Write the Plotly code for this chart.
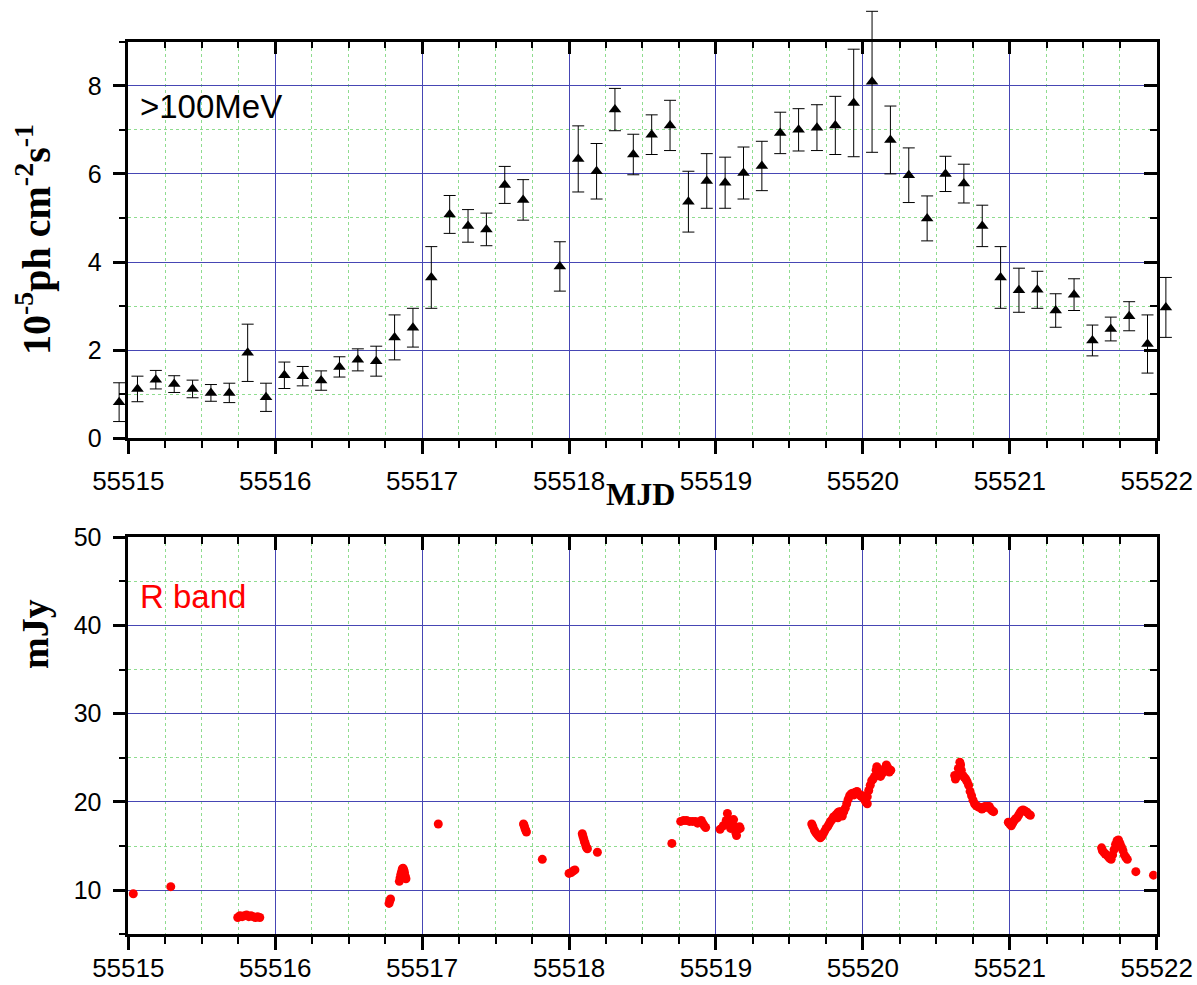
import plotly.graph_objects as go

# ---------------- Fermi-LAT light curve (>100 MeV), 3-hour bins ----------------
gamma_mjd = [
    55514.9375, 55515.0625, 55515.1875, 55515.3125, 55515.4375, 55515.5625,
    55515.6875, 55515.8125, 55515.9375, 55516.0625, 55516.1875, 55516.3125,
    55516.4375, 55516.5625, 55516.6875, 55516.8125, 55516.9375, 55517.0625,
    55517.1875, 55517.3125, 55517.4375, 55517.5625, 55517.6875,
    55517.9375, 55518.0625, 55518.1875, 55518.3125, 55518.4375, 55518.5625,
    55518.6875, 55518.8125, 55518.9375, 55519.0625, 55519.1875, 55519.3125,
    55519.4375, 55519.5625, 55519.6875, 55519.8125, 55519.9375, 55520.0625,
    55520.1875, 55520.3125, 55520.4375, 55520.5625, 55520.6875, 55520.8125,
    55520.9375, 55521.0625, 55521.1875, 55521.3125, 55521.4375, 55521.5625,
    55521.6875, 55521.8125, 55521.9375, 55522.0625,
]
gamma_flux = [
    0.82, 1.12, 1.33, 1.23, 1.12, 1.03,
    1.03, 1.94, 0.93, 1.43, 1.41, 1.31,
    1.62, 1.78, 1.75, 2.29, 2.51, 3.65,
    5.08, 4.82, 4.74, 5.75, 5.41,
    3.90, 6.34, 6.06, 7.46, 6.44, 6.89,
    7.10, 5.37, 5.84, 5.80, 6.02, 6.18,
    6.93, 7.00, 7.05, 7.10, 7.61, 8.09,
    6.77, 5.97, 4.99, 6.00, 5.78, 4.82,
    3.65, 3.36, 3.37, 2.90, 3.26, 2.22,
    2.48, 2.77, 2.14, 2.97,
]
gamma_err = [
    0.44, 0.29, 0.21, 0.19, 0.20, 0.19,
    0.22, 0.65, 0.32, 0.30, 0.22, 0.22,
    0.23, 0.25, 0.34, 0.51, 0.44, 0.70,
    0.43, 0.37, 0.37, 0.42, 0.46,
    0.56, 0.75, 0.63, 0.48, 0.46, 0.45,
    0.57, 0.69, 0.62, 0.58, 0.59, 0.56,
    0.47, 0.48, 0.52, 0.66, 1.22, 1.60,
    0.77, 0.62, 0.51, 0.40, 0.44, 0.47,
    0.70, 0.50, 0.42, 0.38, 0.36, 0.35,
    0.27, 0.33, 0.66, 0.68,
]

# ---------------- R-band optical flux density (mJy) ----------------
r_mjd = [
    55515.034, 55515.289,
    55515.745, 55515.760, 55515.775, 55515.790, 55515.805, 55515.820,
    55515.835, 55515.850, 55515.865, 55515.880, 55515.895,
    55516.775, 55516.780, 55516.785,
    55516.845, 55516.850, 55516.855, 55516.860, 55516.865, 55516.870,
    55516.875, 55516.880, 55516.885, 55516.890, 55516.870,
    55517.110,
    55517.690, 55517.695, 55517.700, 55517.705, 55517.710,
    55517.818,
    55518.000, 55518.015, 55518.030, 55518.040,
    55518.090, 55518.095, 55518.100, 55518.105, 55518.110, 55518.115,
    55518.120, 55518.125,
    55518.193,
    55518.700,
    55518.760, 55518.780, 55518.800, 55518.820, 55518.840, 55518.860,
    55518.875, 55518.890, 55518.900, 55518.910, 55518.920, 55518.930,
    55519.028, 55519.050, 55519.070, 55519.078, 55519.090, 55519.100,
    55519.110, 55519.120, 55519.130, 55519.135, 55519.140, 55519.150,
    55519.160, 55519.165, 55519.100,
    55519.652, 55519.660, 55519.670, 55519.680, 55519.690, 55519.700,
    55519.710, 55519.720, 55519.730, 55519.740, 55519.750, 55519.760,
    55519.770, 55519.780, 55519.790, 55519.800, 55519.810, 55519.820,
    55519.830, 55519.840, 55519.850, 55519.860, 55519.870, 55519.880,
    55519.890, 55519.900, 55519.910, 55519.920, 55519.930, 55519.940,
    55519.950, 55519.960, 55519.970, 55519.980, 55519.990, 55520.000,
    55520.010, 55520.020, 55520.030, 55520.030, 55520.040, 55520.050,
    55520.060, 55520.070, 55520.080, 55520.090, 55520.095, 55520.100,
    55520.110, 55520.120, 55520.130, 55520.140, 55520.150, 55520.160,
    55520.170, 55520.180, 55520.190, 55519.830, 55519.860,
    55520.625, 55520.630, 55520.640, 55520.650, 55520.660, 55520.665,
    55520.670, 55520.680, 55520.690, 55520.700, 55520.710, 55520.720,
    55520.730, 55520.740, 55520.750, 55520.760, 55520.770, 55520.780,
    55520.790, 55520.800, 55520.810, 55520.820, 55520.830, 55520.840,
    55520.850, 55520.860, 55520.870, 55520.880, 55520.890,
    55520.990, 55521.000, 55521.010, 55521.020, 55521.030, 55521.040,
    55521.050, 55521.060, 55521.070, 55521.080, 55521.090, 55521.100,
    55521.110, 55521.120, 55521.130, 55521.140,
    55521.625, 55521.630, 55521.640, 55521.650, 55521.660, 55521.670,
    55521.680, 55521.690, 55521.700, 55521.710, 55521.720, 55521.730,
    55521.740, 55521.750, 55521.760, 55521.770, 55521.780, 55521.790,
    55521.800, 55521.858, 55521.978,
]
r_flux = [
    9.6, 10.4,
    6.9, 7.1, 7.0, 7.1, 7.2, 7.0,
    7.1, 7.0, 6.9, 7.0, 6.9,
    8.5, 8.8, 9.0,
    11.0, 11.4, 11.8, 12.1, 12.4, 12.5,
    12.3, 12.0, 11.6, 11.3, 11.7,
    17.5,
    17.5, 17.3, 17.0, 16.8, 16.6,
    13.5,
    11.9, 12.0, 12.2, 12.3,
    16.4, 16.1, 15.8, 15.5, 15.3, 15.0,
    14.8, 14.7,
    14.3,
    15.3,
    17.8, 17.9, 17.9, 17.8, 17.8, 17.8,
    17.6, 17.7, 17.9, 17.6, 17.3, 17.1,
    16.9, 17.3, 17.9, 18.7, 18.0, 17.6,
    17.8, 18.0, 17.2, 16.5, 16.2, 16.9,
    17.2, 17.0, 17.0,
    17.5, 17.2, 16.8, 16.5, 16.3, 16.1,
    15.95, 16.1, 16.4, 16.7, 17.0, 17.2,
    17.5, 17.8, 18.0, 18.3, 18.4, 18.6,
    18.8, 18.9, 18.9, 18.7, 18.9, 19.3,
    19.8, 20.3, 20.7, 20.9, 21.0, 20.8,
    21.1, 21.2, 20.9, 20.8, 20.6, 20.7,
    20.3, 20.0, 19.8, 20.6, 21.3, 21.9,
    22.4, 22.6, 22.9, 23.6, 24.0, 23.3,
    23.0, 22.9, 23.2, 23.5, 23.8, 24.2,
    23.9, 23.4, 23.6, 18.2, 18.4,
    23.0, 22.6, 22.9, 23.8, 24.5, 24.2,
    23.6, 23.0, 22.8, 22.6, 22.3, 21.9,
    21.2, 20.7, 20.2, 19.8, 19.6, 19.5,
    19.4, 19.4, 19.2, 19.3, 19.5, 19.4,
    19.5, 19.5, 19.2, 19.0, 18.9,
    17.7, 17.5, 17.3, 17.6, 17.9, 18.1,
    18.2, 18.5, 18.8, 19.0, 19.1, 19.0,
    18.9, 18.8, 18.6, 18.5,
    14.8, 14.5, 14.3, 14.1, 14.0, 13.8,
    13.6, 13.5, 14.0, 14.6, 15.2, 15.6,
    15.7, 15.3, 14.9, 14.5, 14.0, 13.7,
    13.5, 12.1, 11.7,
]

# ---------------- axis ticks ----------------
mjd_ticks = [55515, 55516, 55517, 55518, 55519, 55520, 55521, 55522]
mjd_labels = ["55515", "55516", "55517", "55518", "55519", "55520", "55521", "55522"]
gamma_ticks = [0, 2, 4, 6, 8]
gamma_labels = ["0", "2", "4", "6", "8"]
r_ticks = [10, 20, 30, 40, 50]
r_labels = ["10", "20", "30", "40", "50"]

SANS = "Liberation Sans, Arial, sans-serif"
SERIF = "Liberation Serif, Times New Roman, serif"
MAJOR_GRID = "#4646b4"
MINOR_GRID = "#8fdc8f"

W, H = 1197, 985
XR = [55515, 55522]
GR = [0, 9]
RR = [5, 50]
X_DOM = [0.10718, 0.96633]
TOP_DOM = [0.55503, 0.95766]
BOT_DOM = [0.05147, 0.45452]

# The gamma-ray points sit on a hidden, larger subplot that shares the
# scale of the top panel, so bins and error bars reaching past the frame stay visible.
FREE_X_DOM = [0.0, 1.0]
FREE_Y_DOM = [0.5, 1.0]


def extend(rng, dom, new_dom):
    scale = (rng[1] - rng[0]) / (dom[1] - dom[0])
    return [rng[0] + (new_dom[0] - dom[0]) * scale,
            rng[1] + (new_dom[1] - dom[1]) * scale]


FREE_XR = extend(XR, X_DOM, FREE_X_DOM)
FREE_YR = extend(GR, TOP_DOM, FREE_Y_DOM)

fig = go.Figure()

fig.add_trace(go.Scatter(
    x=gamma_mjd, y=gamma_flux, mode="markers",
    marker=dict(symbol="triangle-up", size=11, color="black"),
    error_y=dict(type="data", array=gamma_err, color="black", thickness=1, width=6),
    xaxis="x5", yaxis="y5", showlegend=False,
))
fig.add_trace(go.Scatter(
    x=r_mjd, y=r_flux, mode="markers",
    marker=dict(symbol="circle", size=9, color="#ff0000", line=dict(width=0)),
    xaxis="x2", yaxis="y2", showlegend=False,
))
# empty traces so the panel and frame axes get their own subplots
for xa, ya in (("x", "y"), ("x3", "y"), ("x", "y3"), ("x4", "y2"), ("x2", "y4")):
    fig.add_trace(go.Scatter(x=[], y=[], xaxis=xa, yaxis=ya, showlegend=False,
                             hoverinfo="skip"))


def main_x(anchor, standoff):
    return dict(
        range=XR, domain=X_DOM, anchor=anchor, automargin=False,
        tickmode="array", tickvals=mjd_ticks, ticktext=mjd_labels,
        ticks="outside", ticklen=13, tickwidth=2.5, tickcolor="black",
        showline=True, linecolor="black", linewidth=2.5,
        showgrid=True, gridcolor=MAJOR_GRID, gridwidth=1, zeroline=False,
        tickfont=dict(family=SANS, size=26, color="black"),
        ticklabelstandoff=standoff,
        minor=dict(dtick=0.25, tick0=55515, ticks="outside", ticklen=7,
                   tickwidth=2, tickcolor="black", showgrid=True,
                   gridcolor=MINOR_GRID, gridwidth=1, griddash="dot"),
    )


def main_y(anchor, rng, dom, vals, labels, minor_step):
    return dict(
        range=rng, domain=dom, anchor=anchor, automargin=False,
        tickmode="array", tickvals=vals, ticktext=labels,
        ticks="outside", ticklen=13, tickwidth=2.5, tickcolor="black",
        showline=True, linecolor="black", linewidth=2.5,
        showgrid=True, gridcolor=MAJOR_GRID, gridwidth=1, zeroline=False,
        tickfont=dict(family=SANS, size=25, color="black"),
        ticklabelstandoff=6,
        minor=dict(dtick=minor_step, tick0=rng[0], ticks="outside", ticklen=7,
                   tickwidth=2, tickcolor="black", showgrid=True,
                   gridcolor=MINOR_GRID, gridwidth=1, griddash="dot"),
    )


def frame_x(over, anchor):
    return dict(
        range=XR, overlaying=over, anchor=anchor, side="top", automargin=False,
        tickmode="array", tickvals=mjd_ticks, showticklabels=False,
        ticks="inside", ticklen=13, tickwidth=2.5, tickcolor="black",
        showline=True, linecolor="black", linewidth=2.5,
        showgrid=False, zeroline=False,
        minor=dict(dtick=0.25, tick0=55515, ticks="inside", ticklen=7,
                   tickwidth=2, tickcolor="black", showgrid=False),
    )


def frame_y(over, anchor, rng, vals, minor_step):
    return dict(
        range=rng, overlaying=over, anchor=anchor, side="right", automargin=False,
        tickmode="array", tickvals=vals, showticklabels=False,
        ticks="inside", ticklen=13, tickwidth=2.5, tickcolor="black",
        showline=True, linecolor="black", linewidth=2.5,
        showgrid=False, zeroline=False,
        minor=dict(dtick=minor_step, tick0=rng[0], ticks="inside", ticklen=7,
                   tickwidth=2, tickcolor="black", showgrid=False),
    )


fig.update_layout(
    width=W, height=H,
    margin=dict(l=0, r=0, t=0, b=0, autoexpand=False),
    paper_bgcolor="white", plot_bgcolor="rgba(0,0,0,0)",
    xaxis=main_x("y", 5),
    yaxis=main_y("x", GR, TOP_DOM, gamma_ticks, gamma_labels, 1),
    xaxis2=main_x("y2", -4),
    yaxis2=main_y("x2", RR, BOT_DOM, r_ticks, r_labels, 5),
    xaxis3=frame_x("x", "y"),
    yaxis3=frame_y("y", "x", GR, gamma_ticks, 1),
    xaxis4=frame_x("x2", "y2"),
    yaxis4=frame_y("y2", "x2", RR, r_ticks, 5),
    xaxis5=dict(range=FREE_XR, domain=FREE_X_DOM, anchor="y5", visible=False,
                automargin=False, showgrid=False, zeroline=False),
    yaxis5=dict(range=FREE_YR, domain=FREE_Y_DOM, anchor="x5", visible=False,
                automargin=False, showgrid=False, zeroline=False),
    annotations=[
        dict(text="&gt;100MeV", x=55515.068, y=7.54, xref="x", yref="y",
             xanchor="left", yanchor="middle", showarrow=False,
             font=dict(family=SANS, size=33, color="black")),
        dict(text="R band", x=55515.068, y=43.3, xref="x2", yref="y2",
             xanchor="left", yanchor="middle", showarrow=False,
             font=dict(family=SANS, size=33, color="#ff0000")),
        dict(text="<b>10<sup>-5</sup>ph cm<sup>-2</sup>s<sup>-1</sup></b>",
             x=0.0276, y=0.7563, xref="paper", yref="paper", textangle=-90,
             xanchor="center", yanchor="middle", showarrow=False,
             font=dict(family=SERIF, size=40, color="black")),
        dict(text="<b>mJy</b>", x=0.0292, y=0.3563, xref="paper", yref="paper",
             textangle=-90, xanchor="center", yanchor="middle", showarrow=False,
             font=dict(family=SERIF, size=38, color="black")),
        dict(text="<b>MJD</b>", x=0.5355, y=0.4985, xref="paper", yref="paper",
             xanchor="center", yanchor="middle", showarrow=False,
             font=dict(family=SERIF, size=32, color="black")),
    ],
)

fig.write_html("out.html")
